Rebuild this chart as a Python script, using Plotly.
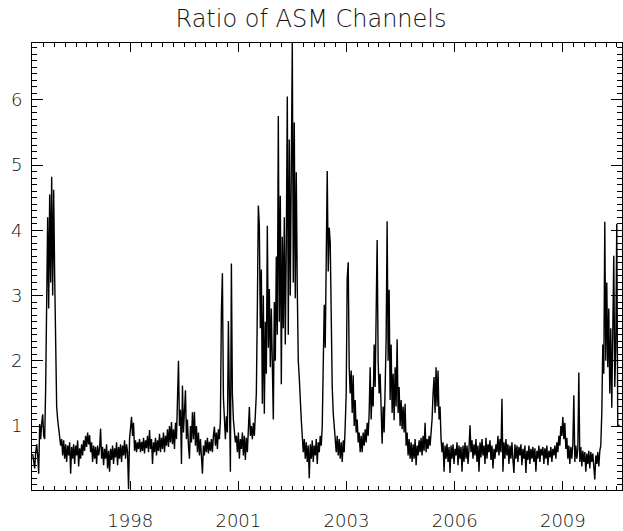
import numpy as np
import plotly.graph_objects as go

# Time base: MJD of first sample and sampling interval (days)
MJD_START = 50098.5
MJD_STEP = 9.231

# Ratio of ASM channels (one value per sample)
RATIO = [
    0.57, 0.45, 0.35, 0.60, 0.72, 0.55, 0.27, 1.03, 0.80, 1.05,
    1.18, 0.85, 0.80, 1.60, 3.30, 4.20, 2.80, 4.55, 3.20, 4.82,
    3.00, 4.62, 3.30, 2.20, 1.30, 1.10, 0.95, 0.85, 0.70, 0.80,
    0.55, 0.78, 0.50, 0.72, 0.45, 0.70, 0.55, 0.75, 0.27, 0.68,
    0.50, 0.72, 0.42, 0.70, 0.55, 0.78, 0.38, 0.66, 0.50, 0.72,
    0.55, 0.78, 0.62, 0.85, 0.68, 0.90, 0.72, 0.86, 0.60, 0.75,
    0.45, 0.70, 0.50, 0.68, 0.42, 0.70, 0.55, 0.66, 0.96, 0.50,
    0.68, 0.40, 0.65, 0.50, 0.72, 0.35, 0.62, 0.30, 0.65, 0.48,
    0.70, 0.42, 0.66, 0.52, 0.75, 0.40, 0.68, 0.50, 0.72, 0.45,
    0.70, 0.55, 0.78, 0.50, 0.72, 0.60, 0.03, 0.80, 1.00, 1.14,
    0.85, 1.05, 0.62, 0.78, 0.60, 0.75, 0.65, 0.80, 0.60, 0.76,
    0.62, 0.82, 0.58, 0.78, 0.66, 0.85, 0.60, 0.94, 0.65, 0.80,
    0.42, 0.75, 0.60, 0.82, 0.55, 0.78, 0.62, 0.88, 0.60, 0.82,
    0.65, 0.90, 0.60, 0.85, 0.70, 0.95, 0.68, 1.00, 0.75, 1.06,
    0.72, 0.95, 0.65, 1.05, 0.80, 1.30, 2.00, 1.00, 1.25, 0.42,
    1.62, 0.90, 1.20, 1.55, 0.80, 1.10, 0.70, 0.50, 1.00, 0.75,
    1.21, 0.80, 1.22, 0.70, 1.00, 0.60, 0.90, 0.55, 0.80, 0.60,
    0.27, 0.70, 0.55, 0.78, 0.60, 0.82, 0.58, 0.76, 0.62, 0.80,
    0.60, 0.85, 0.99, 0.70, 0.90, 0.65, 0.95, 0.80, 1.10, 2.76,
    3.34, 1.44, 1.00, 0.80, 1.15, 0.90, 2.61, 1.70, 0.30, 3.49,
    1.50, 1.10, 0.90, 0.75, 0.85, 0.60, 0.90, 0.50, 0.80, 0.65,
    0.90, 0.55, 0.85, 0.48, 0.82, 0.60, 0.95, 1.29, 0.85, 1.00,
    0.80, 1.05, 0.85, 1.10, 1.50, 2.80, 4.38, 4.07, 2.50, 3.40,
    1.34, 3.00, 1.19, 2.60, 1.80, 4.07, 2.20, 3.10, 1.90, 2.80,
    1.85, 1.10, 2.90, 2.00, 3.60, 2.40, 5.75, 2.60, 4.53, 1.64,
    3.90, 2.50, 4.20, 2.25, 3.80, 6.05, 2.40, 5.39, 3.00, 5.70,
    6.87, 3.20, 5.65, 2.96, 4.89, 3.10, 2.00, 1.74, 1.30, 1.10,
    0.85, 0.60, 0.80, 0.50, 0.75, 0.45, 0.70, 0.20, 0.72, 0.50,
    0.78, 0.45, 0.70, 0.55, 0.80, 0.42, 0.75, 0.60, 0.85, 0.70,
    1.00, 1.80, 2.86, 2.20, 3.50, 4.91, 3.37, 4.04, 3.81, 2.33,
    1.60, 1.20, 0.98, 0.80, 0.60, 0.85, 0.55, 0.80, 0.50, 0.75,
    0.45, 0.78, 0.60, 1.00, 1.50, 3.26, 3.51, 1.90, 1.50, 1.85,
    1.20, 1.78, 1.00, 1.40, 0.90, 1.10, 0.75, 0.90, 0.60, 0.85,
    0.60, 0.90, 0.70, 0.95, 0.75, 1.05, 0.85, 1.20, 1.90, 1.10,
    1.60, 1.30, 2.25, 1.60, 2.80, 3.85, 2.00, 1.50, 1.80, 1.00,
    0.73, 1.30, 0.90, 1.60, 2.33, 4.14, 2.00, 3.09, 1.40, 2.25,
    1.20, 1.80, 1.09, 1.90, 1.30, 2.33, 1.20, 1.60, 1.00, 1.40,
    0.95, 1.30, 0.90, 1.34, 0.70, 0.90, 0.55, 0.80, 0.50, 0.75,
    0.45, 0.72, 0.50, 0.80, 0.40, 0.70, 0.55, 0.78, 0.60, 0.82,
    0.55, 0.85, 0.62, 1.05, 0.60, 0.80, 0.65, 0.85, 0.70, 0.90,
    1.10, 1.50, 1.75, 1.20, 1.90, 1.30, 1.85, 1.10, 1.30, 0.80,
    0.60, 0.75, 0.30, 0.70, 0.50, 0.73, 0.45, 0.68, 0.28, 0.70,
    0.50, 0.72, 0.42, 0.65, 0.55, 0.75, 0.40, 0.70, 0.50, 0.68,
    0.30, 0.70, 0.45, 0.75, 0.50, 0.70, 0.42, 0.65, 1.01, 0.60,
    0.78, 0.50, 0.72, 0.55, 0.80, 0.45, 0.70, 0.30, 0.75, 0.52,
    0.80, 0.55, 0.70, 0.42, 0.82, 0.50, 0.72, 0.60, 0.78, 0.48,
    0.70, 0.35, 0.65, 0.50, 0.72, 0.60, 0.85, 0.55, 0.80, 0.60,
    1.42, 0.30, 0.75, 0.50, 0.80, 0.55, 0.72, 0.42, 0.70, 0.50,
    0.75, 0.48, 0.28, 0.72, 0.50, 0.70, 0.45, 0.68, 0.55, 0.72,
    0.40, 0.65, 0.50, 0.70, 0.28, 0.62, 0.48, 0.70, 0.42, 0.65,
    0.50, 0.68, 0.45, 0.66, 0.30, 0.62, 0.50, 0.70, 0.45, 0.65,
    0.55, 0.68, 0.42, 0.66, 0.50, 0.70, 0.40, 0.62, 0.52, 0.68,
    0.45, 0.65, 0.55, 0.70, 0.50, 0.75, 0.60, 0.85, 0.70, 1.00,
    0.85, 1.14, 0.80, 1.05, 0.65, 0.82, 0.50, 0.70, 0.42, 0.68,
    0.50, 0.72, 1.47, 0.45, 0.70, 0.50, 0.65, 1.82, 0.45, 0.68,
    0.38, 0.62, 0.45, 0.60, 0.30, 0.58, 0.42, 0.62, 0.35, 0.60,
    0.45, 0.58, 0.35, 0.18, 0.55, 0.42, 0.60, 0.38, 0.62, 0.70,
    1.20, 2.25, 1.80, 4.13, 2.00, 3.20, 1.90, 2.80, 1.50, 2.50,
    1.28, 2.60, 3.61, 1.60, 2.20, 4.10, 1.01, 1.01, 1.01,
]

TITLE = "Ratio of ASM Channels"
X_TICKS = [51000, 52000, 53000, 54000, 55000]
X_TICK_LABELS = ["1998", "2001", "2003", "2006", "2009"]
Y_TICKS = [1, 2, 3, 4, 5, 6]

mjd = MJD_START + MJD_STEP * np.arange(len(RATIO))

font_family = "DejaVu Sans"
tick_font = dict(family=font_family, size=18, color="#111111", weight=200)

fig = go.Figure(
    go.Scatter(
        x=mjd, y=RATIO, mode="lines",
        line=dict(color="black", width=1.4),
        hoverinfo="skip",
    )
)

fig.update_layout(
    width=623, height=531,
    margin=dict(l=32, r=0, t=43, b=38),
    paper_bgcolor="white", plot_bgcolor="white",
    showlegend=False,
    title=dict(
        text=TITLE, x=311 / 623, xanchor="center", xref="container",
        y=1 - 19 / 531, yanchor="middle", yref="container",
        font=dict(family=font_family, size=24, color="#111111", weight=200),
    ),
)

fig.update_xaxes(
    range=[50092, 55547],
    tickmode="array", tickvals=X_TICKS, ticktext=X_TICK_LABELS,
    ticks="inside", ticklen=9, tickwidth=1, tickcolor="black",
    showline=True, linecolor="black", linewidth=1, mirror="ticks",
    showgrid=False, zeroline=False,
    tickfont=tick_font, ticklabelstandoff=14,
    minor=dict(tickmode="linear", tick0=50000, dtick=100, ticks="inside",
               ticklen=4, tickcolor="black", tickwidth=1, showgrid=False),
)
fig.update_yaxes(
    range=[0.02, 6.87],
    tickmode="array", tickvals=Y_TICKS, ticktext=[str(v) for v in Y_TICKS],
    ticks="inside", ticklen=11, tickwidth=1, tickcolor="black",
    showline=True, linecolor="black", linewidth=1, mirror="ticks",
    showgrid=False, zeroline=False,
    tickfont=tick_font, ticklabelstandoff=5,
    minor=dict(tickmode="linear", tick0=0, dtick=0.1, ticks="inside",
               ticklen=5, tickcolor="black", tickwidth=1, showgrid=False),
)

fig.write_html("out.html")
